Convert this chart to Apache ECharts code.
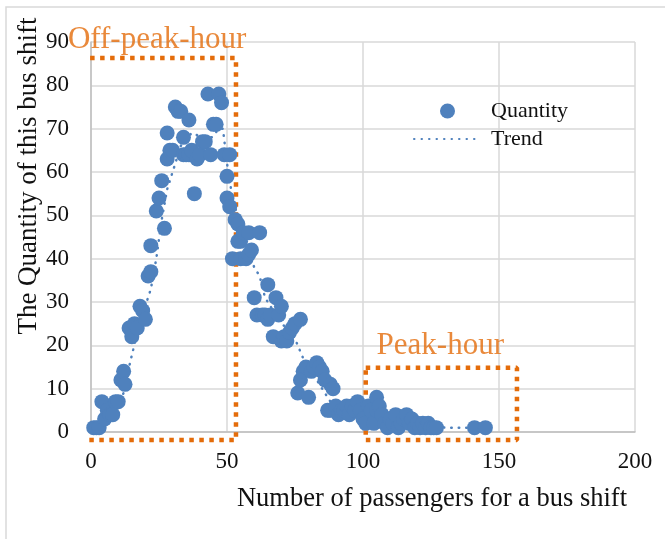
<!DOCTYPE html>
<html><head><meta charset="utf-8">
<script src="https://cdn.jsdelivr.net/npm/echarts@6/dist/echarts.min.js"></script>
<style>html,body{margin:0;padding:0;background:#fff}#c{width:665px;height:539px}</style>
</head><body><div id="c"></div>
<script>
// Scatter: passengers per bus shift (x) vs quantity of this bus shift (y)
const passengers = [1,2,3,4,5,6,7,8,9,10,11,12,12.5,14,15,16,17,18,19,20,21,22,22,24,25,26,27,28,28,29,30,31,32,33,34,34,35,36,36,37,38,39,40,41,42,43,44,45,46,47,48,49,50,50,51,51,52,53,54,54,55,55,56,57,58,58,59,60,61,62,63,64,65,65,66,67,68,69,70,70,71,72,73,74,75,76,77,77,78,79,80,81,82,83,84,85,86,87,88,88,89,90,91,92,93,94,95,96,97,98,99,100,101,102,103,104,105,105,106,107,108,109,110,111,112,113,114,115,116,117,118,119,120,121,122,123,124,125,126,127,141,145];
const quantity   = [1,1,1,7,3,5,4,4,7,7,12,14,11,24,22,25,24,29,28,26,36,37,43,51,54,58,47,63,69,65,65,75,74,74,68,64,64,72,64,65,55,63,64,67,67,78,64,71,71,78,76,64,59,54,52,64,40,49,48,44,44,40,46,40,46,41,42,31,27,46,27,27,34,26,27,22,31,27,29,21,22,21,23,24,25,9,26,12,14,15,8,14,15,16,15,14,12,5,11,5,10,6,4,5,5,6,4,6,5,7,5,3,2,6,5,2,8,5,6,4,2,1,3,2,4,1,2,3,4,2,3,1,2,1,2,1,2,1,1,1,1,1];
// Trend line
const trendX = [1,4,7,10,12,14,15.5,18,21,22,24,26,28,30,33,37,41,44.5,47,48.5,50,51.5,53,55,58,60,62,64,66,68,70,72,74,76,78,80,82,84,86,88,90,93,96,100,104,108,112,116,120,125,130,135,140,145];
const trendY = [1,3,5,7,9,15,19,26,31,33,40,49,56,60,66,69,68,68,70,70,62,56,52,46,42,38,36,31,29,27,25,24,23,20,17,14,13,11,9,7,6,5,5,5,4,3,3,3,2,2,1,1,1,1];
// Annotation boxes (x range, y range) and their labels
const offPeakBox = {x:[-4,53.3], y:[-1.85,86.3], label:'Off-peak-hour', at:[-8.5,90.6]};
const peakBox    = {x:[101,156.6], y:[-1.85,14.8], label:'Peak-hour', at:[105,19.8]};
const xTicks = {min:0, max:200, interval:50};
const yTicks = {min:0, max:90, interval:10};

const FONT = 'Liberation Serif';
const BLUE = '#4f81bd';
const ORANGE = '#e46c0a';
function boxData(b){return [[b.x[0],b.y[1]],[b.x[1],b.y[1]],[b.x[1],b.y[0]],[b.x[0],b.y[0]],[b.x[0],b.y[1]]];}
function boxSeries(b){
  return {type:'line', data:boxData(b), symbol:'none', silent:true, clip:false, z:1,
    lineStyle:{color:ORANGE, width:4.5, type:[4.5,5.5], cap:'butt'}};
}
function labelSeries(b){
  return {type:'scatter', symbolSize:0, clip:false, silent:true, z:5,
    data:[{value:b.at, label:{show:true, position:'right', distance:0, formatter:b.label,
      color:ORANGE, fontFamily:FONT, fontSize:31}}]};
}
const chart = echarts.init(document.getElementById('c'), null, {renderer:'canvas'});
chart.setOption({
  animation:false,
  backgroundColor:'#fff',
  grid:{left:91, right:30, top:42, bottom:107},
  xAxis:{type:'value', min:xTicks.min, max:xTicks.max, interval:xTicks.interval,
    axisLine:{show:true, lineStyle:{color:'#bfbfbf', width:1.5}}, axisTick:{show:false},
    splitLine:{show:true, lineStyle:{color:'#d9d9d9', width:1.5}},
    axisLabel:{color:'#111', fontFamily:FONT, fontSize:23, margin:18},
    name:'Number of passengers for a bus shift', nameLocation:'middle', nameGap:54,
    nameTextStyle:{color:'#111', fontFamily:FONT, fontSize:26.5, padding:[0,0,0,138]}},
  yAxis:{type:'value', min:yTicks.min, max:yTicks.max, interval:yTicks.interval,
    axisLine:{show:true, lineStyle:{color:'#bfbfbf', width:1.5}}, axisTick:{show:false},
    splitLine:{show:true, lineStyle:{color:'#d9d9d9', width:1.5}},
    axisLabel:{color:'#111', fontFamily:FONT, fontSize:23, margin:22}},
  legend:{data:[{name:'Quantity'},{name:'Trend', itemStyle:{opacity:0}}], orient:'vertical', left:408, top:95, itemWidth:67, itemHeight:15, itemGap:6,
    textStyle:{color:'#111', fontFamily:FONT, fontSize:22, padding:[0,0,0,5]}},
  graphic:[
    {type:'rect', shape:{x:6,y:7,width:700,height:600}, style:{fill:'none', stroke:'#d9d9d9', lineWidth:1.5}, silent:true, z:-10},
    {type:'text', x:29, y:176, rotation:Math.PI/2, style:{text:'The Quantity of this bus shift', fill:'#111', font:'27px "Liberation Serif"', align:'center', verticalAlign:'middle'}}
  ],
  series:[
    boxSeries(offPeakBox), boxSeries(peakBox),
    {name:'Trend', type:'line', data:trendX.map((x,i)=>[x,trendY[i]]), symbol:'none', z:2,
      lineStyle:{color:BLUE, width:2.5, type:[0.5,7], cap:'round'}, itemStyle:{color:BLUE}},
    {name:'Quantity', type:'scatter', data:passengers.map((x,i)=>[x,quantity[i]]), symbolSize:15, z:3,
      itemStyle:{color:BLUE, opacity:1}},
    labelSeries(offPeakBox), labelSeries(peakBox)
  ]
});
</script></body></html>
